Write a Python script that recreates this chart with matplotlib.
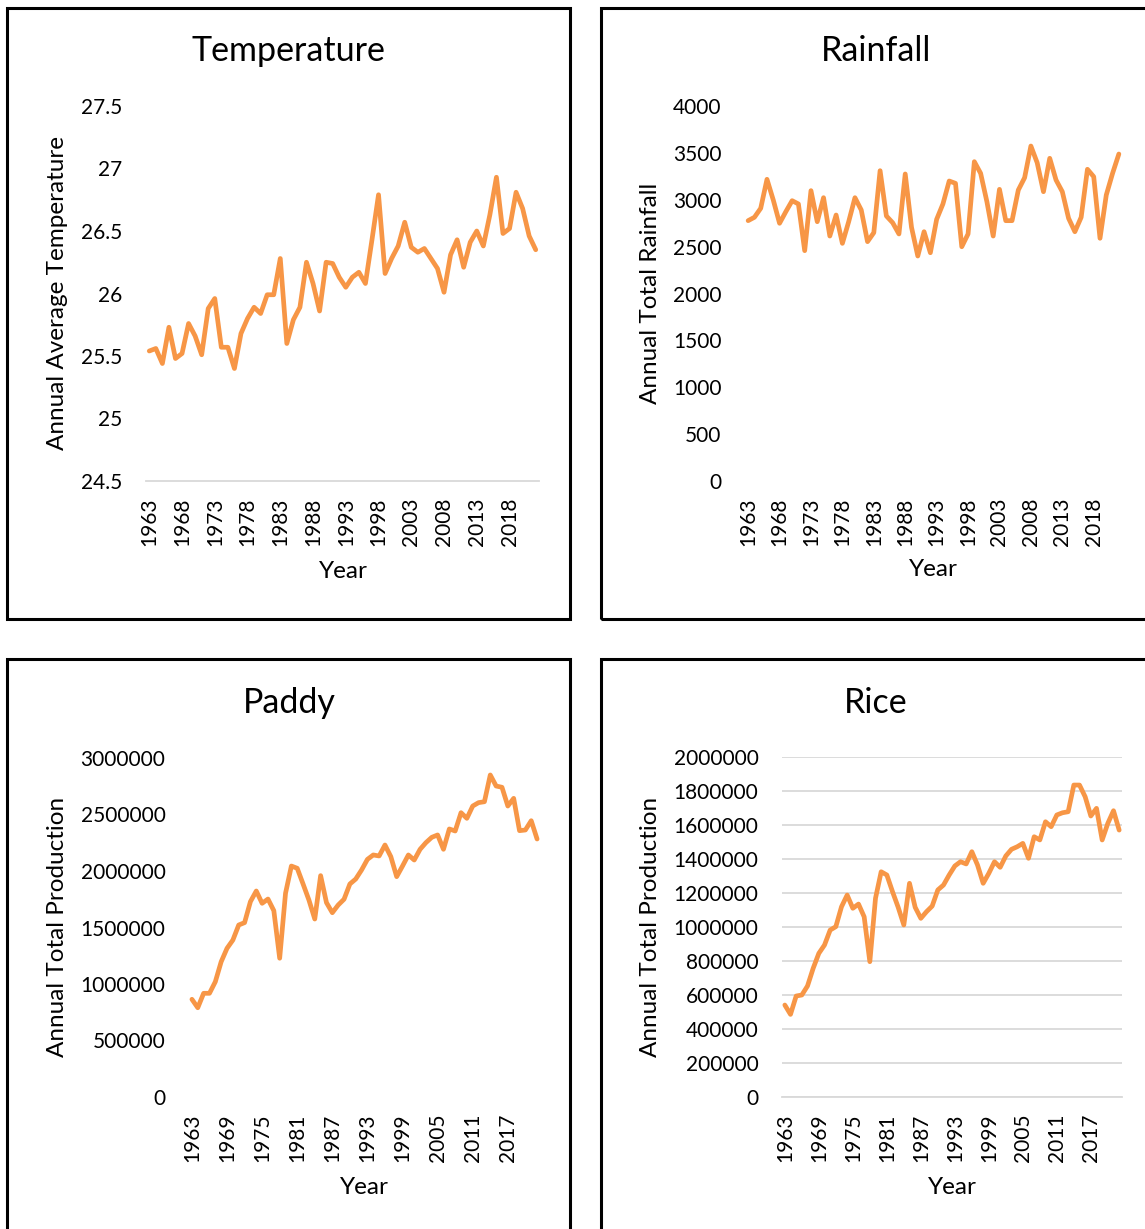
import matplotlib
matplotlib.use("Agg")
import matplotlib.pyplot as plt
from matplotlib.patches import Rectangle

plt.rcParams['font.family'] = ['Lato', 'DejaVu Sans']

W, H = 1145, 1229

years = list(range(1963, 2023))

temperature = [25.54, 25.56, 25.44, 25.73, 25.48, 25.52, 25.76, 25.66, 25.51, 25.88,
               25.96, 25.57, 25.57, 25.40, 25.68, 25.80, 25.89, 25.84, 25.99, 25.99,
               26.28, 25.60, 25.79, 25.89, 26.25, 26.08, 25.86, 26.25, 26.24, 26.13,
               26.05, 26.13, 26.17, 26.08, 26.43, 26.79, 26.16, 26.28, 26.38, 26.57,
               26.37, 26.33, 26.36, 26.28, 26.20, 26.01, 26.31, 26.43, 26.21, 26.41,
               26.50, 26.38, 26.63, 26.93, 26.48, 26.52, 26.81, 26.68, 26.46, 26.35]

rainfall = [2777, 2813, 2909, 3218, 2997, 2749, 2873, 2990, 2955, 2457,
            3097, 2766, 3022, 2613, 2837, 2535, 2766, 3022, 2891, 2553,
            2649, 3310, 2827, 2755, 2635, 3275, 2706, 2400, 2659, 2435,
            2791, 2955, 3200, 3175, 2499, 2635, 3406, 3282, 2979, 2613,
            3111, 2777, 2777, 3104, 3235, 3573, 3395, 3086, 3442, 3211,
            3086, 2802, 2659, 2813, 3325, 3246, 2589, 3051, 3282, 3488]

paddy = [864700, 790000, 917700, 917700, 1020000, 1197000, 1316000, 1389000, 1522000, 1543000,
         1729000, 1823000, 1714000, 1752000, 1649000, 1228000, 1803000, 2044000, 2024000, 1885000,
         1743000, 1575000, 1959000, 1720000, 1631000, 1699000, 1750000, 1885000, 1929000, 2009000,
         2103000, 2142000, 2133000, 2230000, 2127000, 1950000, 2044000, 2142000, 2097000, 2192000,
         2251000, 2298000, 2319000, 2192000, 2372000, 2354000, 2516000, 2466000, 2575000, 2605000,
         2613000, 2850000, 2752000, 2741000, 2575000, 2643000, 2357000, 2363000, 2445000, 2283000]

rice = [541000, 486000, 594000, 600000, 653000, 757000, 845000, 894000, 982000, 1002000,
        1119000, 1188000, 1110000, 1135000, 1060000, 796000, 1169000, 1325000, 1306000, 1208000,
        1116000, 1012000, 1257000, 1116000, 1051000, 1090000, 1123000, 1218000, 1247000, 1306000,
        1359000, 1384000, 1371000, 1443000, 1365000, 1257000, 1316000, 1384000, 1351000, 1418000,
        1457000, 1472000, 1492000, 1404000, 1531000, 1512000, 1619000, 1590000, 1659000, 1672000,
        1678000, 1835000, 1835000, 1766000, 1653000, 1698000, 1512000, 1610000, 1684000, 1570000]

titles = ["Temperature", "Rainfall", "Paddy", "Rice"]
ylabels = ["Annual Average Temperature", "Annual Total Rainfall",
           "Annual Total Production", "Annual Total Production"]
xlabel = "Year"

temp_yticks = [24.5, 25, 25.5, 26, 26.5, 27, 27.5]
temp_yticklabels = ["24.5", "25", "25.5", "26", "26.5", "27", "27.5"]
rain_yticks = [0, 500, 1000, 1500, 2000, 2500, 3000, 3500, 4000]
paddy_yticks = [0, 500000, 1000000, 1500000, 2000000, 2500000, 3000000]
rice_yticks = [0, 200000, 400000, 600000, 800000, 1000000, 1200000, 1400000,
               1600000, 1800000, 2000000]

xt5 = ["1963", "1968", "1973", "1978", "1983", "1988", "1993", "1998", "2003", "2008", "2013", "2018"]
xt6 = ["1963", "1969", "1975", "1981", "1987", "1993", "1999", "2005", "2011", "2017"]

LINE = "#F79646"
GRID = "#D9D9D9"

fig = plt.figure(figsize=(W / 100, H / 100), dpi=100)


def rect(l, r, t, b):
    return [l / W, 1 - b / H, (r - l) / W, (b - t) / H]


def fx(x):
    return x / W


def fy(y):
    return 1 - y / H


# panel borders
for (l, t, r, b) in [(7, 8, 570, 619), (601, 8, 1160, 619), (7, 659, 570, 1240), (601, 659, 1160, 1240)]:
    fig.patches.append(Rectangle((fx(l), fy(b)), (r - l) / W, (b - t) / H,
                                 transform=fig.transFigure, fill=False,
                                 edgecolor="black", linewidth=2.2, zorder=10))

panels = [
    dict(data=temperature, r=(146, 539, 106, 481), ylim=(24.5, 27.5), yt=temp_yticks,
         ytl=temp_yticklabels, xt=xt5, step=5, title_xy=(288, 51), ylab_xy=(58, 293),
         xlab_xy=(343, 571), base=True, grid=False),
    dict(data=rainfall, r=(745, 1122, 106, 481), ylim=(0, 4000), yt=rain_yticks,
         ytl=[str(v) for v in rain_yticks], xt=xt5, step=5, title_xy=(876, 51),
         ylab_xy=(651, 293), xlab_xy=(933, 570), base=False, grid=False),
    dict(data=paddy, r=(189, 540, 758, 1097), ylim=(0, 3000000), yt=paddy_yticks,
         ytl=[str(v) for v in paddy_yticks], xt=xt6, step=6, title_xy=(289, 703),
         ylab_xy=(58, 927), xlab_xy=(364, 1187), base=False, grid=False),
    dict(data=rice, r=(782, 1122, 757, 1097), ylim=(0, 2000000), yt=rice_yticks,
         ytl=[str(v) for v in rice_yticks], xt=xt6, step=6, title_xy=(876, 703),
         ylab_xy=(651, 927), xlab_xy=(952, 1187), base=True, grid=True),
]

for p, title, ylab in zip(panels, titles, ylabels):
    l, r, t, b = p["r"]
    ax = fig.add_axes(rect(l, r, t, b))
    ax.plot(range(len(years)), p["data"], color=LINE, linewidth=3.4,
            solid_joinstyle="round", solid_capstyle="round", zorder=3)
    ax.set_xlim(-0.5, len(years) - 0.5)
    ax.set_ylim(*p["ylim"])
    ax.set_yticks(p["yt"])
    ax.set_yticklabels(p["ytl"])
    ax.set_xticks(list(range(0, len(years), p["step"]))[:len(p["xt"])])
    ax.set_xticklabels(p["xt"], rotation=90)
    ax.tick_params(axis="both", length=0, labelsize=15, colors="black")
    ax.tick_params(axis="x", pad=12)
    ax.tick_params(axis="y", pad=17)
    for s in ["top", "right", "left", "bottom"]:
        ax.spines[s].set_visible(False)
    if p["base"]:
        ax.spines["bottom"].set_visible(True)
        ax.spines["bottom"].set_color(GRID)
        ax.spines["bottom"].set_linewidth(1.3)
    if p["grid"]:
        ax.yaxis.grid(True, color=GRID, linewidth=1.3)
        ax.set_axisbelow(True)
    ax.patch.set_alpha(0)

    tx, ty = p["title_xy"]
    fig.text(fx(tx), fy(ty), title, ha="center", va="center", fontsize=24.5, color="black")
    lx, ly = p["ylab_xy"]
    fig.text(fx(lx), fy(ly), ylab, ha="center", va="center", rotation=90, fontsize=17.5, color="black")
    xx, xy = p["xlab_xy"]
    fig.text(fx(xx), fy(xy), xlabel, ha="center", va="center", fontsize=17.5, color="black")

fig.savefig("out.png", dpi=100, facecolor="white")
